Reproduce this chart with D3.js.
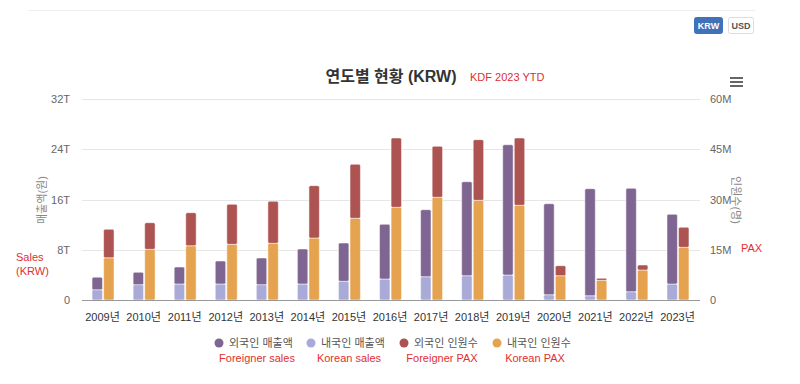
<!DOCTYPE html>
<html>
<head>
<meta charset="utf-8">
<script src="https://cdn.jsdelivr.net/npm/d3@7"></script>
<style>
  html, body { margin: 0; padding: 0; background: #fff; }
  svg { display: block; font-family: "Liberation Sans", "Noto Sans CJK KR", sans-serif; }
</style>
</head>
<body>
<div id="chart"></div>
<script>
// 연도별 매출액(조원) 및 인원수(백만명)
var years = ['2009', '2010', '2011', '2012', '2013', '2014', '2015', '2016',
             '2017', '2018', '2019', '2020', '2021', '2022', '2023'];
var foreignSales = [2.0, 1.97, 2.7, 3.66, 4.25, 5.57, 6.09, 8.71, 10.67, 14.96, 20.74, 14.49, 17.04, 16.46, 11.09];
var koreanSales = [1.64, 2.44, 2.55, 2.55, 2.44, 2.55, 2.98, 3.34, 3.71, 3.87, 3.98, 0.84, 0.68, 1.32, 2.55];
var foreignPax = [8.5, 7.94, 9.86, 11.94, 12.53, 15.61, 16.12, 20.69, 15.22, 18.09, 20.09, 2.99, 0.6, 1.49, 5.97];
var koreanPax = [12.6, 15.13, 16.2, 16.63, 16.93, 18.51, 24.39, 27.67, 30.66, 29.76, 28.27, 7.25, 5.88, 8.96, 15.73];

var salesTicks = [0, 8, 16, 24, 32];
var paxTicks = [0, 15, 30, 45, 60];

var legendItems = [
    { label: '외국인 매출액', note: 'Foreigner sales', color: '#7f6591' },
    { label: '내국인 매출액', note: 'Korean sales', color: '#a9aad8' },
    { label: '외국인 인원수', note: 'Foreigner PAX', color: '#ad5352' },
    { label: '내국인 인원수', note: 'Korean PAX', color: '#e6a34f' }
];

var W = 800, H = 384;
var svg = d3.select('#chart').append('svg').attr('width', W).attr('height', H);

// bovenlijn + knoppen
svg.append('line').attr('x1', 28).attr('x2', 755).attr('y1', 10.5).attr('y2', 10.5)
    .attr('stroke', '#eeeeee');
svg.append('rect').attr('x', 694.5).attr('y', 17.5).attr('width', 28).attr('height', 16)
    .attr('rx', 2).attr('fill', '#3f72b8').attr('stroke', '#3f72b8');
svg.append('text').attr('x', 708.5).attr('y', 29).attr('text-anchor', 'middle')
    .attr('font-size', 9).attr('font-weight', 'bold').attr('fill', '#fff').text('KRW');
svg.append('rect').attr('x', 728.5).attr('y', 17.5).attr('width', 25).attr('height', 16)
    .attr('rx', 2).attr('fill', '#fff').attr('stroke', '#dddddd');
svg.append('text').attr('x', 741).attr('y', 29).attr('text-anchor', 'middle')
    .attr('font-size', 9).attr('font-weight', 'bold').attr('fill', '#555').text('USD');

// titel
svg.append('text').attr('x', 391).attr('y', 82).attr('text-anchor', 'middle')
    .attr('font-size', 16).attr('font-weight', 'bold').attr('fill', '#333')
    .text('연도별 현황 (KRW)');
svg.append('text').attr('x', 470).attr('y', 81)
    .attr('font-size', 11).attr('fill', '#e03030').text('KDF 2023 YTD');

// menu-icoon
[78, 82, 86].forEach(function (y) {
    svg.append('rect').attr('x', 730).attr('y', y - 1).attr('width', 13).attr('height', 2)
        .attr('fill', '#666');
});

var x = d3.scaleBand().domain(years).range([82, 698]);
var inner = d3.scaleBand().domain(['sales', 'pax'])
    .range([x.bandwidth() * 0.245, x.bandwidth() * 0.78]).paddingInner(0.1);
var ySales = d3.scaleLinear().domain([0, 32]).range([300, 99]);
var yPax = d3.scaleLinear().domain([0, 60]).range([300, 99]);

// rasterlijnen
svg.append('g').selectAll('line').data(salesTicks.slice(1)).join('line')
    .attr('x1', 82).attr('x2', 700)
    .attr('y1', function (d) { return Math.round(ySales(d)) + 0.5; })
    .attr('y2', function (d) { return Math.round(ySales(d)) + 0.5; })
    .attr('stroke', '#e6e6e6');

// linker as
var left = svg.append('g').attr('transform', 'translate(70,0)')
    .call(d3.axisLeft(ySales).tickValues(salesTicks).tickSize(0).tickPadding(0)
        .tickFormat(function (d) { return d === 0 ? '0' : d + 'T'; }));
left.select('.domain').remove();
left.selectAll('text').attr('font-size', 11).attr('fill', '#666')
    .attr('font-family', '"Liberation Sans", sans-serif');

// rechter as
var right = svg.append('g').attr('transform', 'translate(710,0)')
    .call(d3.axisRight(yPax).tickValues(paxTicks).tickSize(0).tickPadding(0)
        .tickFormat(function (d) { return d === 0 ? '0' : d + 'M'; }));
right.select('.domain').remove();
right.selectAll('text').attr('font-size', 11).attr('fill', '#666')
    .attr('font-family', '"Liberation Sans", sans-serif');

// astitels
svg.append('text').attr('transform', 'translate(46,200) rotate(-90)')
    .attr('text-anchor', 'middle').attr('font-size', 11).attr('fill', '#888').text('매출액(원)');
svg.append('text').attr('transform', 'translate(732,200) rotate(90)')
    .attr('text-anchor', 'middle').attr('font-size', 11).attr('fill', '#888').text('인원수(명)');

svg.append('text').attr('x', 16).attr('y', 261).attr('font-size', 11).attr('fill', '#e03030').text('Sales');
svg.append('text').attr('x', 16).attr('y', 275).attr('font-size', 11).attr('fill', '#e03030').text('(KRW)');
svg.append('text').attr('x', 741).attr('y', 252).attr('font-size', 11).attr('fill', '#e03030').text('PAX');

// gestapelde kolommen
var rows = years.map(function (y, i) {
    return { year: y, ks: koreanSales[i], fs: foreignSales[i], kp: koreanPax[i], fp: foreignPax[i] };
});
var bars = svg.append('g');
function stack(group, key, lo, hi, scale, color) {
    bars.selectAll('rect.' + key).data(rows).join('rect')
        .attr('class', key)
        .attr('x', function (d) { return x(d.year) + inner(group); })
        .attr('width', inner.bandwidth())
        .attr('y', function (d) { return scale(lo(d) + hi(d)); })
        .attr('height', function (d) { return scale(lo(d)) - scale(lo(d) + hi(d)); })
        .attr('rx', 1.5)
        .attr('fill', color)
        .attr('stroke', '#fff').attr('stroke-width', 0.5);
}
stack('sales', 'ks', function () { return 0; }, function (d) { return d.ks; }, ySales, legendItems[1].color);
stack('sales', 'fs', function (d) { return d.ks; }, function (d) { return d.fs; }, ySales, legendItems[0].color);
stack('pax', 'kp', function () { return 0; }, function (d) { return d.kp; }, yPax, legendItems[3].color);
stack('pax', 'fp', function (d) { return d.kp; }, function (d) { return d.fp; }, yPax, legendItems[2].color);

// x-as
svg.append('line').attr('x1', 82).attr('x2', 700).attr('y1', 300.5).attr('y2', 300.5)
    .attr('stroke', '#999');
var bottom = svg.append('g').attr('transform', 'translate(0,300)')
    .call(d3.axisBottom(x).tickSize(0).tickPadding(13)
        .tickFormat(function (d) { return d + '년'; }));
bottom.select('.domain').remove();
bottom.selectAll('text').attr('font-size', 11).attr('fill', '#333')
    .attr('font-family', '"Liberation Sans", "Noto Sans CJK KR", sans-serif');

// legenda
var legendX = [219, 311, 404, 497];
var lg = svg.append('g').selectAll('g').data(legendItems).join('g')
    .attr('transform', function (d, i) { return 'translate(' + legendX[i] + ',343)'; });
lg.append('circle').attr('r', 4.5).attr('fill', function (d) { return d.color; });
lg.append('text').attr('x', 10).attr('y', 4).attr('font-size', 11).attr('fill', '#555')
    .text(function (d) { return d.label; });
lg.append('text').attr('x', 38).attr('y', 19).attr('text-anchor', 'middle')
    .attr('font-size', 11).attr('fill', '#e03030')
    .text(function (d) { return d.note; });
</script>
</body>
</html>
